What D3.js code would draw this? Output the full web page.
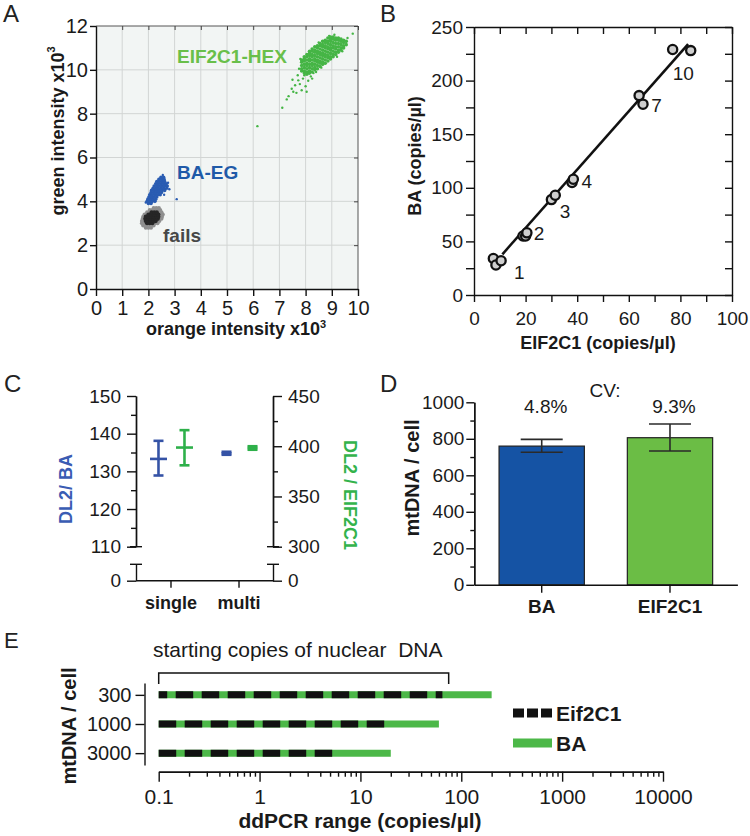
<!DOCTYPE html>
<html><head><meta charset="utf-8">
<script src="https://cdn.jsdelivr.net/npm/d3@7"></script>
<style>
body{margin:0;background:#fff;}
svg text{font-family:"Liberation Sans",Arial,Helvetica,sans-serif;}
</style></head><body>
<svg id="fig" width="750" height="836"></svg>
<script>
// ================= DATA =================
// Panel A: droplet intensities (x = orange x10^3, y = green x10^3), columns of [x, [y...]]
const hexCore = [
 [7.85,[9.95,10.05,10.2,10.35,10.45]],
 [7.95,[9.85,9.95,10.1,10.25,10.4,10.5,10.6]],
 [8.05,[9.8,9.9,10.05,10.2,10.3,10.45,10.6,10.7]],
 [8.15,[9.85,9.95,10.1,10.25,10.4,10.5,10.65,10.75,10.85]],
 [8.25,[9.9,10.05,10.2,10.3,10.45,10.6,10.7,10.85,10.95]],
 [8.35,[10.0,10.1,10.25,10.4,10.5,10.65,10.8,10.9,11.05]],
 [8.45,[10.05,10.2,10.35,10.45,10.6,10.75,10.85,11.0,11.1]],
 [8.55,[10.15,10.3,10.4,10.55,10.7,10.8,10.95,11.1,11.2]],
 [8.65,[10.25,10.35,10.5,10.65,10.75,10.9,11.05,11.15,11.3]],
 [8.75,[10.3,10.45,10.6,10.7,10.85,11.0,11.1,11.25,11.35]],
 [8.85,[10.4,10.55,10.65,10.8,10.95,11.05,11.2,11.3,11.45]],
 [8.95,[10.5,10.6,10.75,10.9,11.0,11.15,11.3,11.4,11.5]],
 [9.05,[10.6,10.7,10.85,11.0,11.1,11.25,11.4,11.5]],
 [9.15,[10.7,10.8,10.95,11.05,11.2,11.35,11.45]],
 [9.25,[10.8,10.9,11.05,11.2,11.35,11.45]],
 [9.35,[10.9,11.0,11.15,11.3,11.4]],
 [9.45,[11.0,11.1,11.25,11.35]],
 [9.55,[11.15,11.3]]
];
const hexScatter = [[7.11,8.27],[7.28,8.65],[7.35,8.8],[7.47,9.14],[7.53,9.0],[7.6,9.3],[7.65,8.95],[7.72,9.52],
 [7.78,9.35],[7.85,9.07],[7.9,9.6],[7.95,9.75],[8.04,9.0],[8.1,9.5],[8.2,9.7],[8.3,9.85],[8.0,9.25],[7.7,9.75],
 [7.5,9.55],[8.25,9.6],[8.4,9.9],[7.8,10.5],[7.75,10.05],[8.6,10.1],[9.2,10.6],[9.4,10.85],[9.55,11.3],[9.6,11.45],
 [9.8,11.65],[8.9,11.55],[9.1,11.6],[8.5,11.25],[6.16,7.43]];
const baCore = [
 [3.9,[2.0,2.1]],[4.0,[1.95,2.05,2.15,2.25]],[4.1,[1.98,2.08,2.18,2.28]],[4.2,[2.02,2.12,2.22,2.32]],
 [4.3,[2.05,2.15,2.25,2.35,2.45]],[4.4,[2.1,2.2,2.3,2.4,2.5]],[4.5,[2.12,2.22,2.32,2.42,2.52,2.62]],
 [4.6,[2.18,2.28,2.38,2.48,2.58,2.7]],[4.7,[2.22,2.32,2.42,2.52,2.62,2.72]],[4.8,[2.28,2.38,2.48,2.58,2.68]],
 [4.9,[2.32,2.42,2.52,2.62]],[5.0,[2.4,2.5,2.6]],[5.1,[2.48,2.58]]
]; // rows of [y, [x...]]
const baScatter = [[2.75,4.85],[2.8,4.55],[1.9,3.95],[2.6,4.3],[3.08,4.1],[2.55,5.2]];
const failEdge = [
 [2.8,[1.9,2.0,2.1]],[2.9,[1.8,1.9,2.0,2.1,2.2]],[3.0,[1.75,1.85,2.25,2.35]],[3.1,[1.75,1.82,2.35,2.42]],
 [3.2,[1.78,2.42,2.5]],[3.3,[1.8,2.45,2.52]],[3.4,[1.85,1.92,2.45,2.55]],[3.5,[1.95,2.05,2.4,2.5]],
 [3.6,[2.05,2.15,2.25,2.35,2.45]],[3.7,[2.2,2.3,2.4]]
];
const failCore = [
 [3.0,[1.95,2.05,2.15]],[3.1,[1.9,2.0,2.1,2.2,2.28]],[3.2,[1.88,1.98,2.08,2.18,2.28,2.36]],
 [3.3,[1.9,2.0,2.1,2.2,2.3,2.38]],[3.4,[2.0,2.1,2.2,2.3,2.38]],[3.5,[2.12,2.22,2.32]]
];
const aXTicks = [0,1,2,3,4,5,6,7,8,9,10];
const aYTicks = [0,2,4,6,8,10,12];

// Panel B: EIF2C1 vs BA (copies/µl)
const bEif = [7.5, 8.5, 10.5, 19, 20, 20.5, 30, 31.5, 38, 38.5, 64, 65.5, 77, 84];
const bBa  = [34, 28, 32, 55, 55, 58, 89, 93, 105, 108, 186, 178, 229, 228];
const bFitX = [11, 83];
const bFitY = [38, 234];
const bDilution = ["1","2","3","4","7","10"];
const bDilutionAt = [[17.6,21],[25.2,57],[35.3,78],[43.7,106],[70.8,177],[81.1,207]];

// Panel C: ratio DL2/BA (left) and DL2/EIF2C1 (right)
const cCats = ["single","multi"];
const cBaMean = [133.3, 134.8], cBaLo = [128.9, 134.4], cBaHi = [138.1, 135.2];
const cEifMean = [398.7, 398.3], cEifLo = [381, 396.5], cEifHi = [416, 400];

// Panel D: mtDNA / cell
const dCats = ["BA","EIF2C1"];
const dMean = [760, 806], dLo = [726, 733], dHi = [797, 881];
const dCV = ["4.8%","9.3%"];

// Panel E: ddPCR range
const eRows = ["300","1000","3000"];
const eEifMax = [65, 20, 6];
const eBaMax = [200, 60, 20];
const eMin = 0.1;
const eBracket = [0.1, 75];
const eTicks = [0.1, 1, 10, 100, 1000, 10000];
const eTickLabels = ["0.1","1","10","100","1000","10000"];

// ================= DRAW =================
const svg = d3.select("#fig");
const INK = "#1a1a1a";
function txt(g, x, y, s, o = {}) {
  const t = g.append("text").attr("x", x).attr("y", y).text(s)
    .attr("font-size", o.size || 18).attr("font-weight", o.bold ? "bold" : "normal")
    .attr("text-anchor", o.anchor || "start").attr("fill", o.fill || INK);
  if (o.rotate) t.attr("transform", `rotate(${o.rotate},${x},${y})`);
  if (o.mid) t.attr("dominant-baseline", "central");
  return t;
}
function styleAxis(g, size, sw = 1.3, col = "#111") {
  g.attr("font-family", null).attr("font-size", null);
  g.selectAll("text").attr("font-size", size).attr("fill", INK);
  g.selectAll("line").attr("stroke", col).attr("stroke-width", sw);
  g.select(".domain").attr("stroke", col).attr("stroke-width", sw);
  return g;
}
const fmtInt = d3.format("d");
const flatCols = cols => cols.flatMap(([x, ys]) => ys.map(y => [x, y]));
const flatRows = rows => rows.flatMap(([y, xs]) => xs.map(x => [x, y]));

// ---------- Panel A ----------
{
  const g = svg.append("g");
  const x = d3.scaleLinear([0, 10], [96, 358]);
  const y = d3.scaleLinear([0, 12], [289, 26]);
  g.append("rect").attr("x", x(0)).attr("y", y(12)).attr("width", x(10) - x(0)).attr("height", y(0) - y(12)).attr("fill", "#f2f5f4");
  g.append("g").selectAll("line").data(aXTicks.slice(1, -1)).join("line")
    .attr("x1", d => x(d)).attr("x2", d => x(d)).attr("y1", y(0)).attr("y2", y(12)).attr("stroke", "#d2d5d4");
  g.append("g").selectAll("line").data(aYTicks.slice(1, -1)).join("line")
    .attr("y1", d => y(d)).attr("y2", d => y(d)).attr("x1", x(0)).attr("x2", x(10)).attr("stroke", "#d2d5d4");
  g.append("path").attr("d", `M${x(0)},${y(12)}H${x(10)}V${y(0)}`).attr("fill", "none").attr("stroke", "#555").attr("stroke-width", 1);
  const top = g.append("g").attr("transform", `translate(0,${y(12)})`).call(d3.axisBottom(x).tickValues(aXTicks).tickSize(4).tickSizeOuter(0).tickFormat(""));
  top.select(".domain").remove(); styleAxis(top, 10, 1, "#444");
  const right = g.append("g").attr("transform", `translate(${x(10)},0)`).call(d3.axisLeft(y).tickValues(aYTicks).tickSize(4).tickSizeOuter(0).tickFormat(""));
  right.select(".domain").remove(); styleAxis(right, 10, 1, "#444");
  styleAxis(g.append("g").attr("transform", `translate(0,${y(0)})`).call(d3.axisBottom(x).tickValues(aXTicks).tickSize(7).tickPadding(5).tickSizeOuter(0)), 20, 1.4);
  styleAxis(g.append("g").attr("transform", `translate(${x(0)},0)`).call(d3.axisLeft(y).tickValues(aYTicks).tickSize(6).tickPadding(2).tickSizeOuter(0)), 20, 1.4);

  const dots = (data, col, r) => g.append("g").selectAll("circle").data(data).join("circle")
    .attr("cx", d => x(d[0])).attr("cy", d => y(d[1])).attr("r", r).attr("fill", col);
  dots(flatRows(failEdge), "#8f8f8f", 2.0);
  dots(flatRows(failCore), "#262626", 2.1);
  dots(flatRows(baCore), "#2a5cb2", 1.8);
  dots(baScatter, "#2a5cb2", 1.2);
  dots(flatCols(hexCore), "#45b545", 1.8);
  dots(hexScatter, "#45b545", 1.2);

  txt(g, 177, 63, "EIF2C1-HEX", { size: 19, bold: true, fill: "#69bf4a" });
  txt(g, 177, 179, "BA-EG", { size: 19, bold: true, fill: "#1f5aa8" });
  txt(g, 163, 242, "fails", { size: 19, bold: true, fill: "#474747" });

  const yt = txt(g, 58, 131, "green intensity x10", { size: 18, bold: true, anchor: "middle", rotate: -90, mid: true });
  yt.append("tspan").attr("dy", -7).attr("font-size", 11).text("3");
  const xt = txt(g, 236, 335, "orange intensity x10", { size: 18, bold: true, anchor: "middle" });
  xt.append("tspan").attr("dy", -7).attr("font-size", 11).text("3");
  txt(g, 3, 22, "A", { size: 24, fill: "#222" });
}

// ---------- Panel B ----------
{
  const g = svg.append("g");
  const x = d3.scaleLinear([0, 100], [474, 732]);
  const y = d3.scaleLinear([0, 250], [295, 27]);
  const xt = d3.range(0, 101, 10), yt = d3.range(0, 251, 25);
  styleAxis(g.append("g").attr("transform", `translate(0,${y(0)})`).call(d3.axisBottom(x).tickValues(xt).tickSize(7).tickPadding(10).tickSizeOuter(0).tickFormat(d => d % 20 === 0 ? d : "")), 19, 1.4);
  styleAxis(g.append("g").attr("transform", `translate(${x(0)},0)`).call(d3.axisLeft(y).tickValues(yt).tickSize(8).tickPadding(3).tickSizeOuter(0).tickFormat(d => d % 50 === 0 ? d : "")), 19, 1.4);
  styleAxis(g.append("g").attr("transform", `translate(0,${y(250)})`).call(d3.axisBottom(x).tickValues(xt).tickSize(7).tickSizeOuter(0).tickFormat("")), 10, 1.4);
  styleAxis(g.append("g").attr("transform", `translate(${x(100)},0)`).call(d3.axisLeft(y).tickValues(yt).tickSize(7).tickSizeOuter(0).tickFormat("")), 10, 1.4);

  g.append("line").attr("x1", x(bFitX[0])).attr("y1", y(bFitY[0])).attr("x2", x(bFitX[1])).attr("y2", y(bFitY[1]))
    .attr("stroke", "#111").attr("stroke-width", 2.6);
  g.append("g").selectAll("circle").data(bEif.map((e, i) => [e, bBa[i]])).join("circle")
    .attr("cx", d => x(d[0])).attr("cy", d => y(d[1])).attr("r", 4.6)
    .attr("fill", "#cfcfcf").attr("stroke", "#111").attr("stroke-width", 2.3);
  bDilution.forEach((s, i) => txt(g, x(bDilutionAt[i][0]), y(bDilutionAt[i][1]), s, { size: 19, anchor: "middle", mid: true }));

  txt(g, 415, 156, "BA (copies/µl)", { size: 18, bold: true, anchor: "middle", rotate: -90, mid: true });
  txt(g, 598, 349, "EIF2C1 (copies/µl)", { size: 18, bold: true, anchor: "middle" });
  txt(g, 380, 22, "B", { size: 24, fill: "#222" });
}

// ---------- Panel C ----------
{
  const g = svg.append("g");
  const L = 136, R = 273, yBreakTop = 546.7, yBreakBot = 564.3, yZero = 580.7;
  const yl = d3.scaleLinear([110, 150], [yBreakTop, 396]);
  const yr = d3.scaleLinear([300, 450], [yBreakTop, 396]);
  const y0 = d3.scaleLinear([0, 1], [yZero, yBreakBot]);
  const x = d3.scalePoint(cCats, [L, R]).padding(0.507);
  const blue = "#3553a6", green = "#2eb04a";

  styleAxis(g.append("g").attr("transform", `translate(${L},0)`).call(d3.axisLeft(yl).tickValues([110, 120, 130, 140, 150]).tickSize(9).tickPadding(6).tickSizeOuter(0)), 19, 1.4);
  styleAxis(g.append("g").attr("transform", `translate(${L},0)`).call(d3.axisLeft(yl).tickValues([115, 125, 135, 145]).tickSize(5).tickSizeOuter(0).tickFormat("")), 10, 1.4);
  styleAxis(g.append("g").attr("transform", `translate(${L},0)`).call(d3.axisLeft(y0).tickValues([0]).tickSize(9).tickPadding(6).tickSizeOuter(0).tickFormat(fmtInt)), 19, 1.4);
  styleAxis(g.append("g").attr("transform", `translate(${R},0)`).call(d3.axisRight(yr).tickValues([300, 350, 400, 450]).tickSize(9).tickPadding(6).tickSizeOuter(0)), 19, 1.4);
  styleAxis(g.append("g").attr("transform", `translate(${R},0)`).call(d3.axisRight(yr).tickValues([325, 375, 425]).tickSize(5).tickSizeOuter(0).tickFormat("")), 10, 1.4);
  styleAxis(g.append("g").attr("transform", `translate(${R},0)`).call(d3.axisRight(y0).tickValues([0]).tickSize(9).tickPadding(6).tickSizeOuter(0).tickFormat(fmtInt)), 19, 1.4);
  [L, R].forEach(ax => [yBreakTop, yBreakBot].forEach(yy =>
    g.append("line").attr("x1", ax - 6).attr("x2", ax + 6).attr("y1", yy).attr("y2", yy).attr("stroke", "#111").attr("stroke-width", 1.4)));
  const xa = g.append("g").attr("transform", `translate(0,${yZero})`).call(d3.axisBottom(x).tickSize(7).tickPadding(9).tickSizeOuter(0));
  styleAxis(xa, 18, 1.4); xa.selectAll("text").attr("font-weight", "bold");
  xa.select(".domain").attr("d", `M${L},0H${R}`);

  const meanHalf = [8.5, 5], capHalf = 5;
  function errs(mean, lo, hi, sc, dx, col) {
    const gg = g.append("g").attr("stroke", col).attr("stroke-width", 2.6).attr("fill", "none");
    cCats.forEach((c, i) => {
      const cx = x(c) + dx;
      gg.append("line").attr("x1", cx).attr("x2", cx).attr("y1", sc(lo[i])).attr("y2", sc(hi[i]));
      gg.append("line").attr("x1", cx - capHalf).attr("x2", cx + capHalf).attr("y1", sc(lo[i])).attr("y2", sc(lo[i]));
      gg.append("line").attr("x1", cx - capHalf).attr("x2", cx + capHalf).attr("y1", sc(hi[i])).attr("y2", sc(hi[i]));
      gg.append("line").attr("x1", cx - meanHalf[i]).attr("x2", cx + meanHalf[i]).attr("y1", sc(mean[i])).attr("y2", sc(mean[i]));
    });
  }
  errs(cBaMean, cBaLo, cBaHi, yl, -12, blue);
  errs(cEifMean, cEifLo, cEifHi, yr, 14, green);

  txt(g, 66, 489, "DL2/ BA", { size: 18, bold: true, anchor: "middle", rotate: -90, mid: true, fill: "#3a5cb3" });
  txt(g, 350, 495, "DL2 / EIF2C1", { size: 18, bold: true, anchor: "middle", rotate: 90, mid: true, fill: "#33b34c" });
  txt(g, 4, 392, "C", { size: 24, fill: "#222" });
}

// ---------- Panel D ----------
{
  const g = svg.append("g");
  const y = d3.scaleLinear([0, 1000], [584.8, 402.3]);
  const x = d3.scaleBand(dCats, [474.3, 737.4]).paddingInner(0.335).paddingOuter(0.193);
  const cols = ["#1553a4", "#6bbd45"];
  g.append("g").selectAll("rect").data(dCats).join("rect")
    .attr("x", d => x(d)).attr("width", x.bandwidth())
    .attr("y", (d, i) => y(dMean[i])).attr("height", (d, i) => y(0) - y(dMean[i]))
    .attr("fill", (d, i) => cols[i]).attr("stroke", "#222").attr("stroke-width", 1.2);
  styleAxis(g.append("g").attr("transform", `translate(474.3,0)`).call(d3.axisLeft(y).tickValues(d3.range(0, 1001, 200)).tickSize(8).tickPadding(2).tickSizeOuter(0).tickFormat(fmtInt)), 19, 1.4);
  styleAxis(g.append("g").attr("transform", `translate(474.3,0)`).call(d3.axisLeft(y).tickValues(d3.range(100, 1000, 200)).tickSize(4).tickSizeOuter(0).tickFormat("")), 10, 1.4);
  const xa = g.append("g").attr("transform", `translate(0,${y(0)})`).call(d3.axisBottom(x).tickSize(8).tickPadding(7).tickSizeOuter(0));
  styleAxis(xa, 19, 1.4); xa.selectAll("text").attr("font-weight", "bold");

  const eg = g.append("g").attr("stroke", "#2a2a2a").attr("stroke-width", 1.6);
  dCats.forEach((c, i) => {
    const cx = x(c) + x.bandwidth() / 2;
    eg.append("line").attr("x1", cx).attr("x2", cx).attr("y1", y(dLo[i])).attr("y2", y(dHi[i]));
    [dLo[i], dHi[i]].forEach(v => eg.append("line").attr("x1", cx - 21).attr("x2", cx + 21).attr("y1", y(v)).attr("y2", y(v)));
    txt(g, cx + 4, 413, dCV[i], { size: 19, anchor: "middle" });
  });
  txt(g, 605, 397, "CV:", { size: 19, anchor: "middle" });
  txt(g, 412, 478, "mtDNA / cell", { size: 20, bold: true, anchor: "middle", rotate: -90, mid: true });
  txt(g, 380, 392, "D", { size: 24, fill: "#222" });
}

// ---------- Panel E ----------
{
  const g = svg.append("g");
  const x = d3.scaleLog([0.1, 10000], [158.7, 663]);
  const y = d3.scalePoint(eRows, [683, 765]).padding(0.407);
  const axisY = 771.7, green = "#4cb848";
  const minor = [0.1, 1, 10, 100, 1000].flatMap(b => d3.range(2, 10).map(k => +(b * k).toPrecision(3)));

  styleAxis(g.append("g").attr("transform", `translate(0,${axisY})`).call(d3.axisBottom(x).tickValues(minor).tickSize(5).tickSizeOuter(0).tickFormat("")), 10, 1.4);
  styleAxis(g.append("g").attr("transform", `translate(0,${axisY})`).call(d3.axisBottom(x).tickValues(eTicks).tickSize(10).tickPadding(7).tickSizeOuter(0).tickFormat((d, i) => eTickLabels[i])), 21, 1.4);
  styleAxis(g.append("g").attr("transform", `translate(144.5,0)`).call(d3.axisLeft(y).tickSize(9).tickPadding(4).tickSizeOuter(0)), 20, 1.4);

  const rowOffset = [9, 0, 0];
  eRows.forEach((r, i) => {
    g.append("line").attr("x1", x(eMin)).attr("x2", x(eBaMax[i])).attr("y1", y(r)).attr("y2", y(r))
      .attr("stroke", green).attr("stroke-width", 7);
    g.append("line").attr("x1", x(eMin)).attr("x2", x(eEifMax[i])).attr("y1", y(r)).attr("y2", y(r))
      .attr("stroke", "#111").attr("stroke-width", 7).attr("stroke-dasharray", "17.5,8.5").attr("stroke-dashoffset", rowOffset[i]);
  });
  g.append("path").attr("d", `M${x(eBracket[0])},684V673H${x(eBracket[1])}V684`).attr("fill", "none").attr("stroke", "#111").attr("stroke-width", 1.5);
  txt(g, 153, 657, "starting copies of nuclear  DNA", { size: 21 }).style("white-space", "pre");

  g.append("line").attr("x1", 513).attr("x2", 552).attr("y1", 713).attr("y2", 713).attr("stroke", "#111").attr("stroke-width", 9).attr("stroke-dasharray", "11,3");
  g.append("line").attr("x1", 513).attr("x2", 552).attr("y1", 743).attr("y2", 743).attr("stroke", green).attr("stroke-width", 9);
  txt(g, 556, 713, "Eif2C1", { size: 21, bold: true, mid: true });
  txt(g, 556, 743, "BA", { size: 21, bold: true, mid: true });

  txt(g, 69, 726, "mtDNA / cell", { size: 20, bold: true, anchor: "middle", rotate: -90, mid: true });
  txt(g, 360, 828, "ddPCR range (copies/µl)", { size: 21, bold: true, anchor: "middle" });
  txt(g, 4, 648, "E", { size: 22, fill: "#222" });
}
</script>
</body></html>
